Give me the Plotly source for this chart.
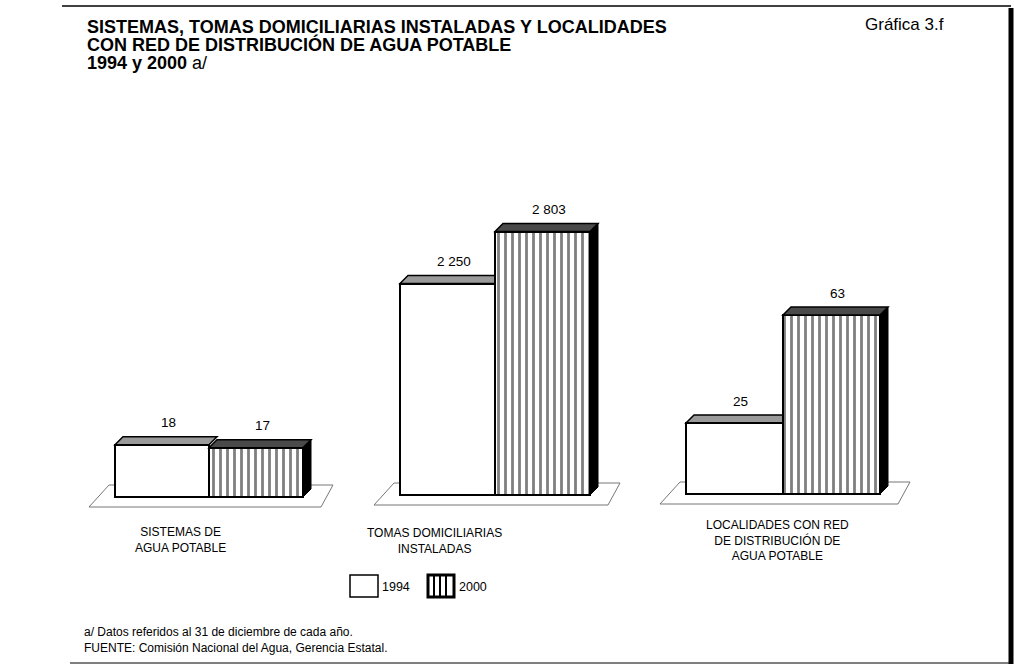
import plotly.graph_objects as go

# ---- data -------------------------------------------------------------
categories = [
    "SISTEMAS DE<br>AGUA POTABLE",
    "TOMAS DOMICILIARIAS<br>INSTALADAS",
    "LOCALIDADES CON RED<br>DE DISTRIBUCIÓN DE<br>AGUA POTABLE",
]
years = ["1994", "2000"]
values_1994 = [18, 2250, 25]
values_2000 = [17, 2803, 63]

# ---- geometry (pixels) -----------------------------------------------
W_FIG, H_FIG = 1014, 664
panel_left = [115, 400, 686]      # left edge of the first bar in each group
bar_px = [94, 95, 97]             # width of one bar
base_px = [497, 495, 494]         # baseline of each group
px_per_unit = [2.9, 0.094, 2.84]  # vertical scale of each group
DEPTH = 8                          # depth of the 3-D faces
PAD_L, PAD_R, PAD_B, PAD_T = 45, 60, 20, 330

cat_label_pos = [(180, 540), (434, 541), (777, 540)]

FONT = "Liberation Sans, Arial, Helvetica, sans-serif"


def px(x):
    return x / W_FIG


def py(y):
    return 1 - y / H_FIG


def fmt(v):
    return f"{v:,}".replace(",", " ")


fig = go.Figure()
shapes = []
annotations = []
layout_axes = {}

for g in range(3):
    n = "" if g == 0 else str(g + 1)
    xa, ya = f"x{n}", f"y{n}"
    W = bar_px[g]
    s = px_per_unit[g]
    L = panel_left[g]
    B = base_px[g]

    layout_axes[f"xaxis{n}"] = dict(
        domain=[px(L - PAD_L), px(L + 2 * W + PAD_R)],
        range=[-0.5 - PAD_L / W, 1.5 + PAD_R / W],
        visible=False, fixedrange=True, anchor=ya,
    )
    layout_axes[f"yaxis{n}"] = dict(
        domain=[py(B + PAD_B), py(B - PAD_T)],
        range=[-PAD_B / s, PAD_T / s],
        visible=False, fixedrange=True, anchor=xa,
    )

    v94, v00 = values_1994[g], values_2000[g]
    fig.add_trace(go.Bar(
        x=[0], y=[v94], width=1, xaxis=xa, yaxis=ya, name=years[0],
        marker=dict(color="white", line=dict(color="black", width=2)),
        showlegend=False, hoverinfo="skip",
    ))
    fig.add_trace(go.Bar(
        x=[1], y=[v00], width=1, xaxis=xa, yaxis=ya, name=years[1],
        marker=dict(
            color="white", line=dict(color="black", width=2),
            pattern=dict(shape="|", size=7, solidity=0.4,
                         fgcolor="black", bgcolor="white"),
        ),
        showlegend=False, hoverinfo="skip",
    ))

    dx, dy = DEPTH / W, DEPTH / s

    # floor plane under the group
    fx0, fx1 = -0.5 - 26 / W, -0.5 - 6 / W
    fx2, fx3 = 1.5 + 30 / W, 1.5 + 18 / W
    fyb, fyt = -10 / s, 12 / s
    shapes.append(dict(
        type="path", xref=xa, yref=ya, layer="below",
        path=f"M{fx0},{fyb} L{fx1},{fyt} L{fx2},{fyt} L{fx3},{fyb} Z",
        line=dict(color="#777777", width=1), fillcolor="rgba(0,0,0,0)",
    ))
    # top face of the 1994 bar
    shapes.append(dict(
        type="path", xref=xa, yref=ya, layer="below",
        path=(f"M-0.5,{v94} L0.5,{v94} L{0.5 + dx},{v94 + dy} "
              f"L{-0.5 + dx},{v94 + dy} Z"),
        line=dict(color="black", width=1.5), fillcolor="#9a9a9a",
    ))
    # top face of the 2000 bar
    shapes.append(dict(
        type="path", xref=xa, yref=ya, layer="above",
        path=(f"M0.5,{v00} L1.5,{v00} L{1.5 + dx},{v00 + dy} "
              f"L{0.5 + dx},{v00 + dy} Z"),
        line=dict(color="black", width=1.5), fillcolor="#4a4a4a",
    ))
    # right side face of the 2000 bar
    shapes.append(dict(
        type="path", xref=xa, yref=ya, layer="above",
        path=(f"M1.5,0 L1.5,{v00} L{1.5 + dx},{v00 + dy} "
              f"L{1.5 + dx},{dy} Z"),
        line=dict(color="black", width=1), fillcolor="black",
    ))

    # value labels
    for xi, v in ((0, v94), (1, v00)):
        annotations.append(dict(
            x=xi, y=v, xref=xa, yref=ya, text=fmt(v), showarrow=False,
            xanchor="center", yanchor="middle", xshift=6, yshift=22,
            font=dict(family=FONT, size=13.5, color="black"),
        ))

    # category label
    cx, cy = cat_label_pos[g]
    annotations.append(dict(
        x=px(cx), y=py(cy), xref="paper", yref="paper", text=categories[g],
        showarrow=False, xanchor="center", yanchor="middle", align="center",
        font=dict(family=FONT, size=12, color="black"),
    ))

# ---- titles ----------------------------------------------------------
title_lines = [
    ("<b>SISTEMAS, TOMAS DOMICILIARIAS INSTALADAS Y LOCALIDADES</b>", 27),
    ("<b>CON RED DE DISTRIBUCIÓN DE AGUA POTABLE</b>", 45),
    ("<b>1994 y 2000</b> a/", 63),
]
for text, y in title_lines:
    annotations.append(dict(
        x=px(85), y=py(y), xref="paper", yref="paper", text=text,
        showarrow=False, xanchor="left", yanchor="middle",
        font=dict(family=FONT, size=18, color="black"),
    ))
annotations.append(dict(
    x=px(904), y=py(24), xref="paper", yref="paper", text="Gráfica 3.f",
    showarrow=False, xanchor="center", yanchor="middle",
    font=dict(family=FONT, size=17, color="black"),
))

# ---- footnotes -------------------------------------------------------
for text, y in (("a/ Datos referidos al 31 de diciembre de cada año.", 632),
                ("FUENTE: Comisión Nacional del Agua, Gerencia Estatal.", 648)):
    annotations.append(dict(
        x=px(82), y=py(y), xref="paper", yref="paper", text=text,
        showarrow=False, xanchor="left", yanchor="middle",
        font=dict(family=FONT, size=12, color="black"),
    ))

# ---- legend ----------------------------------------------------------
shapes.append(dict(type="rect", xref="paper", yref="paper",
                   x0=px(350), x1=px(378), y0=py(597), y1=py(575),
                   line=dict(color="black", width=1.5), fillcolor="white"))
shapes.append(dict(type="rect", xref="paper", yref="paper",
                   x0=px(428), x1=px(454), y0=py(597), y1=py(575),
                   line=dict(color="black", width=3), fillcolor="white"))
for lx in (434, 440, 446):
    shapes.append(dict(type="line", xref="paper", yref="paper",
                       x0=px(lx), x1=px(lx), y0=py(597), y1=py(575),
                       line=dict(color="black", width=2)))
for text, x in ((years[0], 380), (years[1], 457)):
    annotations.append(dict(
        x=px(x), y=py(587), xref="paper", yref="paper", text=text,
        showarrow=False, xanchor="left", yanchor="middle",
        font=dict(family=FONT, size=12.5, color="black"),
    ))

# ---- frame -----------------------------------------------------------
shapes.append(dict(type="line", xref="paper", yref="paper",
                   x0=px(62), x1=px(1011), y0=py(6), y1=py(6),
                   line=dict(color="black", width=1.5)))
shapes.append(dict(type="line", xref="paper", yref="paper",
                   x0=px(1011), x1=px(1011), y0=py(8), y1=py(664),
                   line=dict(color="black", width=5)))
shapes.append(dict(type="line", xref="paper", yref="paper",
                   x0=px(70), x1=px(1011), y0=py(663), y1=py(663),
                   line=dict(color="black", width=1)))

fig.update_layout(
    width=W_FIG, height=H_FIG,
    margin=dict(l=0, r=0, t=0, b=0),
    paper_bgcolor="white", plot_bgcolor="rgba(0,0,0,0)",
    barmode="overlay", bargap=0,
    shapes=shapes, annotations=annotations,
    font=dict(family=FONT, color="black"),
    **layout_axes,
)

fig.write_html("out.html")
